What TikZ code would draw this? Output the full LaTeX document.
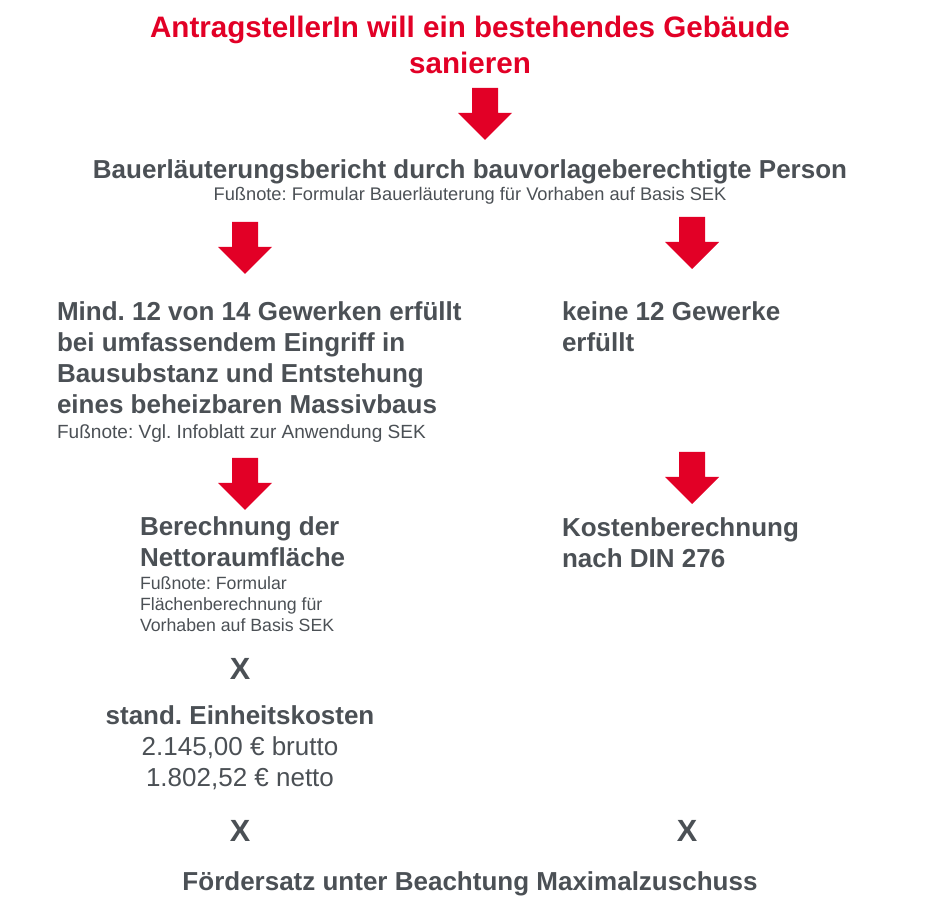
\documentclass[tikz,border=0pt]{standalone}
\usepackage{fontspec}
\setmainfont{Liberation Sans}
\frenchspacing
\definecolor{dred}{RGB}{226,0,38}
\definecolor{tgray}{RGB}{75,80,85}
\tikzset{
  bigarrow/.pic={\fill[dred] (-13,0) -- (13,0) -- (13,25) -- (27,25) -- (0,52) -- (-27,25) -- (-13,25) -- cycle;}
}
\begin{document}
\begin{tikzpicture}[x=0.75pt,y=-0.75pt,
  every node/.style={inner sep=0pt, outer sep=0pt, text=tgray},
  titletxt/.style={font=\frenchspacing\fontsize{22.2pt}{27pt}\selectfont\bfseries, text=dred, align=center},
  bt/.style={font=\frenchspacing\fontsize{19.5pt}{23.25pt}\selectfont\bfseries},
  rt/.style={font=\frenchspacing\fontsize{19.5pt}{23.25pt}\selectfont},
  xt/.style={font=\fontsize{23pt}{27pt}\selectfont\bfseries},
  fnA/.style={font=\frenchspacing\fontsize{13.7pt}{16pt}\selectfont},
  fnB/.style={font=\frenchspacing\fontsize{14.3pt}{16pt}\selectfont},
  fnC/.style={font=\frenchspacing\fontsize{13.3pt}{15.75pt}\selectfont},
]
\useasboundingbox (0,0) rectangle (940,912);

% title
\node[titletxt, anchor=base] (title) at (470,38)
  {\begin{tabular}[t]{@{}c@{}}AntragstellerIn will ein bestehendes Gebäude\\sanieren\end{tabular}};
\pic at (485,88) {bigarrow};

% Bauerläuterungsbericht
\node[bt, anchor=base] (bericht) at (470,179) {Bauerläuterungsbericht durch bauvorlageberechtigte Person};
\node[fnA, anchor=base] (fn1) at (470,201) {Fußnote: Formular Bauerläuterung für Vorhaben auf Basis SEK};

\pic at (245,222) {bigarrow};
\pic at (692,217) {bigarrow};

% left branch
\node[bt, anchor=base west] (mind) at (57,321)
  {\begin{tabular}[t]{@{}l@{}}Mind. 12 von 14 Gewerken erfüllt\\bei umfassendem Eingriff in\\Bausubstanz und Entstehung\\eines beheizbaren Massivbaus\end{tabular}};
\node[fnB, anchor=base west] (fn2) at (57,439) {Fußnote: Vgl. Infoblatt zur Anwendung SEK};

% right branch
\node[bt, anchor=base west] (keine) at (562,321)
  {\begin{tabular}[t]{@{}l@{}}keine 12 Gewerke\\erfüllt\end{tabular}};

\pic at (245,458) {bigarrow};
\pic at (692,452) {bigarrow};

\node[bt, anchor=base west] (nra) at (140,536)
  {\begin{tabular}[t]{@{}l@{}}Berechnung der\\Nettoraumfläche\end{tabular}};
\node[fnC, anchor=base west] (fn3) at (140,590)
  {\begin{tabular}[t]{@{}l@{}}Fußnote: Formular\\Flächenberechnung für\\Vorhaben auf Basis SEK\end{tabular}};

\node[bt, anchor=base west] (kb) at (562,537)
  {\begin{tabular}[t]{@{}l@{}}Kostenberechnung\\nach DIN 276\end{tabular}};

\node[xt, anchor=base] (x1) at (240,680) {X};

\node[bt, anchor=base] (ek) at (240,725) {stand. Einheitskosten};
\node[rt, anchor=base] (brutto) at (240,756) {2.145,00 € brutto};
\node[rt, anchor=base] (netto) at (240,787) {1.802,52 € netto};

\node[xt, anchor=base] (x2) at (240,842) {X};
\node[xt, anchor=base] (x3) at (687,842) {X};

\node[bt, anchor=base] (foerder) at (470,891) {Fördersatz unter Beachtung Maximalzuschuss};
\end{tikzpicture}
\end{document}
